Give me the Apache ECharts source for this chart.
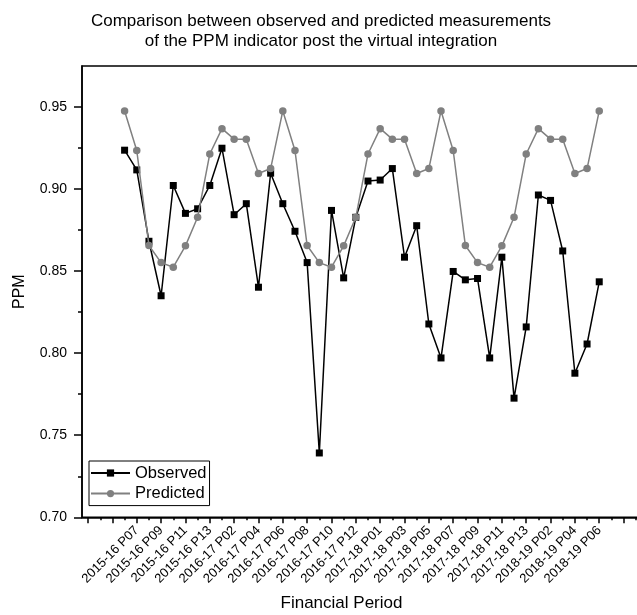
<!DOCTYPE html>
<html>
<head>
<meta charset="utf-8">
<script src="https://cdn.jsdelivr.net/npm/echarts@6/dist/echarts.min.js"></script>
<style>html,body{margin:0;padding:0;background:#fff;}#c{width:637px;height:615px;}</style>
</head>
<body>
<div id="c"></div>
<script>
// ---- data ----
var periods = [
  '2015-16 P06','2015-16 P07','2015-16 P08','2015-16 P09','2015-16 P10','2015-16 P11','2015-16 P12','2015-16 P13',
  '2016-17 P01','2016-17 P02','2016-17 P03','2016-17 P04','2016-17 P05','2016-17 P06','2016-17 P07','2016-17 P08',
  '2016-17 P09','2016-17 P10','2016-17 P11','2016-17 P12','2016-17 P13',
  '2017-18 P01','2017-18 P02','2017-18 P03','2017-18 P04','2017-18 P05','2017-18 P06','2017-18 P07','2017-18 P08',
  '2017-18 P09','2017-18 P10','2017-18 P11','2017-18 P12','2017-18 P13',
  '2018-19 P01','2018-19 P02','2018-19 P03','2018-19 P04','2018-19 P05','2018-19 P06'
];
var observed = [0.9237,0.9117,0.8682,0.8350,0.9022,0.8852,0.8880,0.9022,0.9249,0.8844,0.8911,0.8402,0.9097,
  0.8911,0.8743,0.8552,0.7392,0.8870,0.8459,0.8828,0.9049,0.9055,0.9125,0.8585,0.8777,0.8178,0.7971,
  0.8498,0.8447,0.8455,0.7971,0.8585,0.7726,0.8160,0.8964,0.8931,0.8623,0.7878,0.8056,0.8435];
var predicted = [0.9476,0.9235,0.8656,0.8552,0.8524,0.8654,0.8828,0.9214,0.9368,0.9304,0.9304,0.9095,0.9125,
  0.9476,0.9235,0.8656,0.8552,0.8524,0.8654,0.8828,0.9214,0.9368,0.9304,0.9304,0.9095,0.9125,
  0.9476,0.9235,0.8656,0.8552,0.8524,0.8654,0.8828,0.9214,0.9368,0.9304,0.9304,0.9095,0.9125,
  0.9476];
var padBefore = ['', '', ''];
var padAfter = ['', '', '', ''];
var yMajorTicks = [0.70, 0.75, 0.80, 0.85, 0.90, 0.95];
var yMinorTicks = [0.725, 0.775, 0.825, 0.875, 0.925];

// ---- build ----
var cats = padBefore.concat(periods, padAfter);
function padSeries(arr) {
  return padBefore.map(function(){return null;}).concat(arr, padAfter.map(function(){return null;}));
}
var FONT = 'Liberation Sans, Arial, sans-serif';
var chart = echarts.init(document.getElementById('c'), null, {renderer: 'canvas'});
chart.setOption({
  backgroundColor: '#fff',
  animation: false,
  title: {
    text: 'Comparison between observed and predicted measurements\nof the PPM indicator post the virtual integration',
    left: 316, textAlign: 'center', top: 7,
    textStyle: {fontFamily: FONT, fontSize: 17, fontWeight: 'normal', color: '#000', lineHeight: 19.5}
  },
  legend: {
    orient: 'vertical', left: 89, top: 461,
    padding: [3, 3, 3, 1], itemGap: 2.6, itemWidth: 39, itemHeight: 9,
    borderColor: '#000', borderWidth: 1, backgroundColor: '#fff',
    textStyle: {fontFamily: FONT, fontSize: 16.5, color: '#000', lineHeight: 18},
    data: ['Observed', 'Predicted']
  },
  grid: {left: 82, top: 66, right: -17, bottom: 97.7, show: true, borderColor: '#000', borderWidth: 1.5,
         containLabel: false, outerBoundsMode: 'none'},
  xAxis: [{
    type: 'category', data: cats, boundaryGap: true, position: 'bottom',
    name: 'Financial Period', nameLocation: 'middle', nameGap: 78, nameMoveOverlap: false,
    nameTextStyle: {fontFamily: FONT, fontSize: 17, color: '#000', padding: [0, 53, 0, 0]},
    axisLine: {lineStyle: {color: '#000', width: 1.5}},
    axisTick: {show: true, interval: 0, alignWithLabel: true, length: 3, lineStyle: {color: '#000', width: 1.5}},
    axisLabel: {interval: 1, rotate: 45, margin: 11, fontFamily: FONT, fontSize: 13, color: '#000'},
    splitLine: {show: false}
  }, {
    type: 'category', data: cats, boundaryGap: true, position: 'bottom', offset: 0,
    axisLine: {show: false},
    axisTick: {show: true, interval: 1, alignWithLabel: true, length: 6, lineStyle: {color: '#000', width: 1.5}},
    axisLabel: {show: false},
    splitLine: {show: false}
  }],
  yAxis: [{
    type: 'value', min: 0.70, max: 0.975, interval: 0.05, position: 'left',
    name: 'PPM', nameLocation: 'middle', nameGap: 54, nameMoveOverlap: false,
    nameTextStyle: {fontFamily: FONT, fontSize: 16, color: '#000'},
    axisLine: {show: true, lineStyle: {color: '#000', width: 1.5}},
    axisTick: {show: true, length: 8, customValues: yMajorTicks, lineStyle: {color: '#000', width: 1.5}},
    axisLabel: {margin: 15, customValues: yMajorTicks, fontFamily: FONT, fontSize: 14, color: '#000',
                formatter: function(v){return v.toFixed(2);}},
    splitLine: {show: false}
  }, {
    type: 'value', min: 0.70, max: 0.975, interval: 0.05, position: 'left', offset: 0,
    axisLine: {show: false},
    axisTick: {show: true, length: 4, customValues: yMinorTicks, lineStyle: {color: '#000', width: 1.5}},
    axisLabel: {show: false},
    splitLine: {show: false}
  }],
  series: [{
    name: 'Observed', type: 'line', data: padSeries(observed),
    symbol: 'rect', symbolSize: 7, showAllSymbol: true, connectNulls: false,
    lineStyle: {color: '#000', width: 1.5}, itemStyle: {color: '#000'}, z: 2
  }, {
    name: 'Predicted', type: 'line', data: padSeries(predicted),
    symbol: 'circle', symbolSize: 7.5, showAllSymbol: true, connectNulls: false,
    lineStyle: {color: '#808080', width: 1.5}, itemStyle: {color: '#808080'}, z: 3
  }]
});
</script>
</body>
</html>
